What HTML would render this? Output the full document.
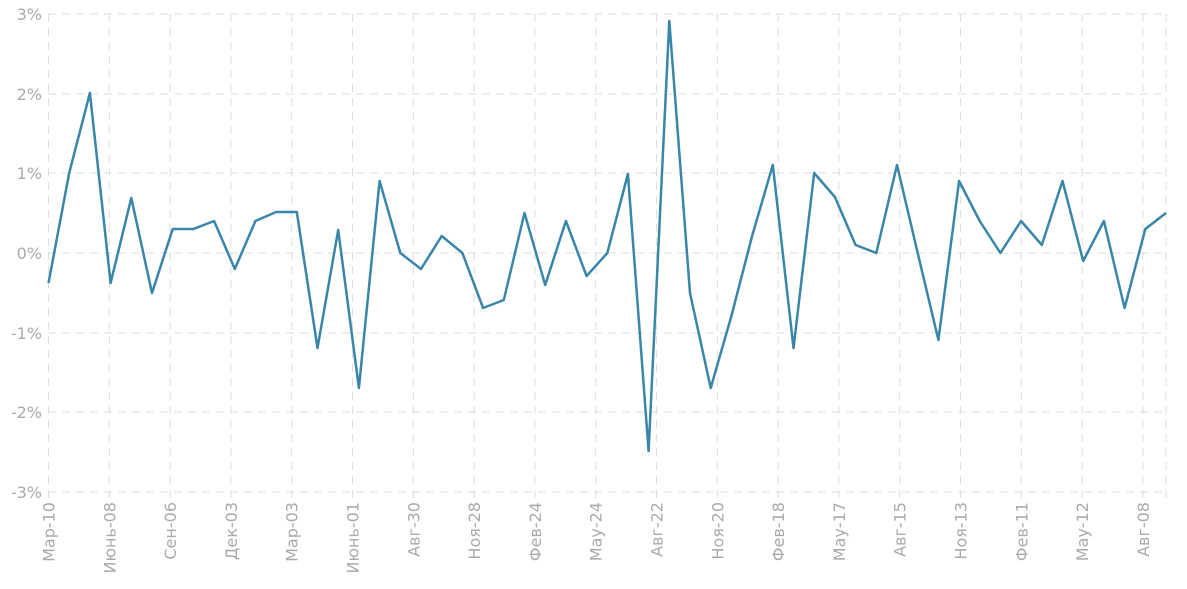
<!DOCTYPE html>
<html><head><meta charset="utf-8"><style>body{margin:0;background:#fff}svg{display:block}text{font-family:"DejaVu Sans","Liberation Sans",sans-serif;fill:#aaa;font-size:16px}</style></head><body>
<svg width="1187" height="589" viewBox="0 0 1187 589">
<g stroke="#ddd" stroke-width="1" stroke-dasharray="8,6" fill="none">
<path d="M48 14H1166M48 94H1166M48 173H1166M48 253H1166M48 333H1166M48 412H1166M48 492H1166"/>
<path id="vg" d=""/>
</g>
<g fill="none" stroke="#3a86a8" stroke-width="2.5" stroke-linejoin="round"><polyline id="ln" points=""/></g>
<g text-anchor="end">
<text x="42" y="20">3%</text><text x="42" y="100">2%</text><text x="42" y="179">1%</text><text x="42" y="259">0%</text><text x="42" y="339">-1%</text><text x="42" y="418">-2%</text><text x="42" y="498">-3%</text>
</g>
<g id="lb" text-anchor="end" style="font-size:17px"></g>
</svg>
<script>
var ys=[283,173,93,283,198,293,229,229,221,269,221,212,212,348,230,388,181,253,269,236,253,308,300,213,285,221,276,253,174,451,21,293,388,316,236,165,348,173,197,245,253,165,253,340,181,221,253,221,245,181,261,221,308,229,213];
var n=ys.length,dx=(1166-48.5)/(n-1),p=[];
for(var i=0;i<n;i++)p.push((48.5+i*dx).toFixed(1)+","+ys[i]);
document.getElementById('ln').setAttribute('points',p.join(' '));
var labs=["Мар-10","Июнь-08","Сен-06","Дек-03","Мар-03","Июнь-01","Авг-30","Ноя-28","Фев-24","Мау-24","Авг-22","Ноя-20","Фев-18","Мау-17","Авг-15","Ноя-13","Фев-11","Мау-12","Авг-08"];
var d="",h="";
for(var k=0;k<labs.length;k++){var x=48.5+k*60.8;d+="M"+x.toFixed(1)+" 14V500";
h+='<text transform="translate('+(x+6).toFixed(1)+',502) rotate(-90)">'+labs[k]+'</text>';}
d+="M1166 14V500";
document.getElementById('vg').setAttribute('d',d);
document.getElementById('lb').innerHTML=h;
</script>
</body></html>
